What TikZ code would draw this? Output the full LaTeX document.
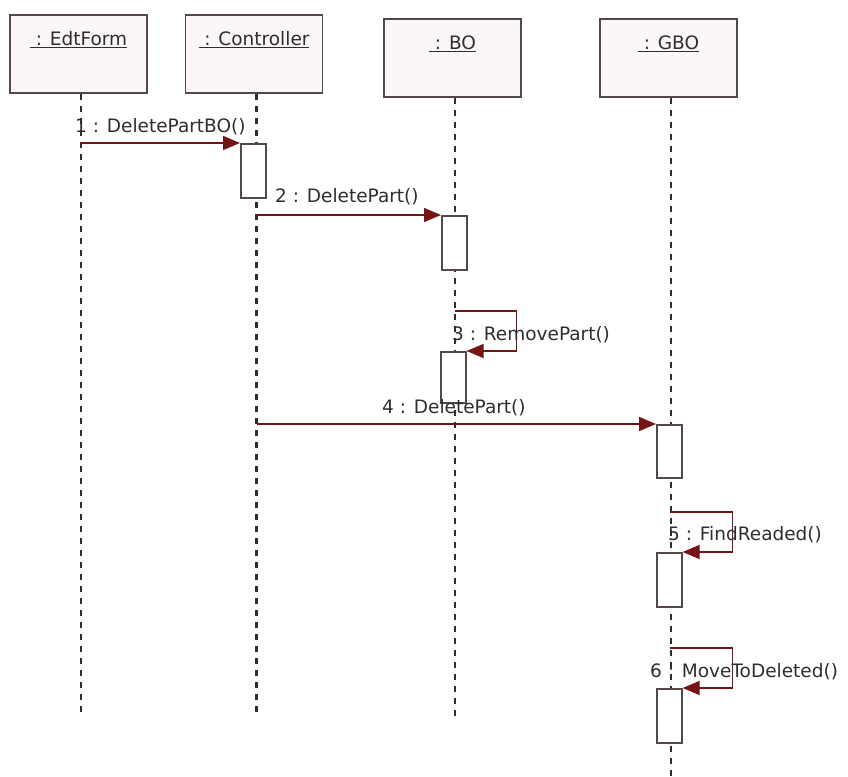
\documentclass[tikz,border=0pt]{standalone}
\usepackage{fontspec}
\setmainfont{DejaVu Sans}
\usetikzlibrary{arrows.meta}
\definecolor{msgred}{HTML}{741414}
\definecolor{edge}{HTML}{544848}
\definecolor{headfill}{HTML}{FDF6F6}
\definecolor{ink}{HTML}{2E2E2E}

\begin{document}
\begin{tikzpicture}[
  x=1pt,y=-1pt,
  head/.style={draw=edge,line width=1.7pt,fill=headfill,minimum width=137pt,
    inner sep=0pt,text height=31pt,text depth=47pt,anchor=north,
    font=\fontsize{18.5}{20}\selectfont,text=ink},
  life/.style={draw=ink,line width=2.4pt,dash pattern=on 6pt off 6pt},
  act/.style={draw=edge,line width=1.6pt,fill=white,minimum width=25pt,
    minimum height=54pt,inner sep=0pt,anchor=north west},
  msg/.style={draw=msgred,line width=1.6pt,
    -{Triangle[length=17pt,width=14pt,fill=msgred]}},
  note/.style={font=\fontsize{18.5}{20}\selectfont,text=ink,inner sep=0pt,anchor=west}]
  \useasboundingbox (0,0) rectangle (848,776);

  % objects and lifelines
  \foreach \id/\cx/\top/\obj/\bot in {
    ef/78.5/14/EdtForm/713,
    ct/254/14/Controller/713,
    bo/452.5/18/BO/717,
    gbo/668.5/18/GBO/776}
  {
    \node[head] (h\id) at (\cx,\top) {\underline{\ : \obj}};
    \coordinate (end\id) at (\cx+2.5,\bot);
    \draw[life] ([xshift=2.5pt]h\id.south) -- (end\id);
  }

  % activations
  \node[act] (a1) at (240,143) {};
  \node[act] (a2) at (441,215) {};
  \node[act,minimum height=51pt] (a3) at (440,351) {};
  \node[act,minimum height=53pt] (a4) at (656,424) {};
  \node[act] (a5) at (656,552) {};
  \node[act] (a6) at (656,688) {};

  % messages
  \coordinate (s1) at (81,143);
  \coordinate (s2) at (257,215);
  \coordinate (s3) at (455,311);
  \coordinate (s4) at (257,424);
  \coordinate (s5) at (670,512);
  \coordinate (s6) at (670,648);
  \draw[msg] (s1) -- (a1.north west);
  \draw[msg] (s2) -- (a2.north west);
  \draw[msg] (s3) -| ([xshift=50pt]a3.north east) -- (a3.north east);
  \draw[msg] (s4) -- (a4.north west);
  \draw[msg] (s5) -| ([xshift=50pt]a5.north east) -- (a5.north east);
  \draw[msg] (s6) -| ([xshift=50pt]a6.north east) -- (a6.north east);

  \node[note] (l1) at (75,127) {1 : DeletePartBO()};
  \node[note] (l2) at (275,197) {2 : DeletePart()};
  \node[note] (l3) at (452,335) {3 : RemovePart()};
  \node[note] (l4) at (382,408) {4 : DeletePart()};
  \node[note] (l5) at (668,535) {5 : FindReaded()};
  \node[note] (l6) at (650,672) {6 : MoveToDeleted()};
\end{tikzpicture}
\end{document}
